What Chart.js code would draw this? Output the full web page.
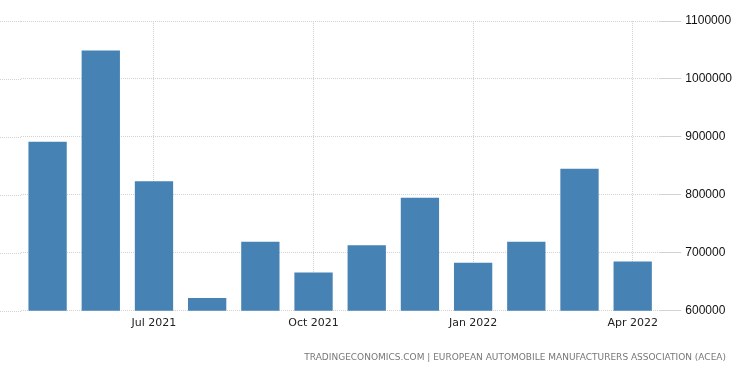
<!DOCTYPE html>
<html>
<head>
<meta charset="utf-8">
<script src="https://cdn.jsdelivr.net/npm/chart.js@4/dist/chart.umd.min.js"></script>
<style>
    html, body { margin: 0; padding: 0; background: #fff; }
    #wrap { position: relative; width: 750px; height: 373px; }
    #source {
        position: absolute; right: 24px; top: 352px;
        font: 9px "DejaVu Sans", sans-serif; letter-spacing: 0;
        color: #777; white-space: nowrap;
    }
</style>
</head>
<body>
<div id="wrap">
    <canvas id="chart" width="750" height="373"></canvas>
    <div id="source">TRADINGECONOMICS.COM | EUROPEAN AUTOMOBILE MANUFACTURERS ASSOCIATION (ACEA)</div>
</div>
<script>
const months = ['May 2021', 'Jun 2021', 'Jul 2021', 'Aug 2021', 'Sep 2021', 'Oct 2021',
    'Nov 2021', 'Dec 2021', 'Jan 2022', 'Feb 2022', 'Mar 2022', 'Apr 2022'];
const registrations = [891700, 1049000, 823600, 622000, 719000, 666000,
    713000, 795000, 683000, 719000, 845000, 685000];
const shownLabels = ['Jul 2021', 'Oct 2021', 'Jan 2022', 'Apr 2022'];

const gridColor = '#d2d2d2';

// horizontal grid lines run out to the left edge of the picture
const extendGrid = {
    id: 'extendGrid',
    beforeDatasetsDraw(chart) {
        const { ctx, chartArea, scales } = chart;
        ctx.save();
        ctx.strokeStyle = gridColor;
        ctx.lineWidth = 1;
        ctx.setLineDash([1, 1]);
        scales.y.ticks.forEach(t => {
            const y = Math.round(scales.y.getPixelForValue(t.value)) + 0.5;
            ctx.beginPath();
            ctx.moveTo(0, y);
            ctx.lineTo(chartArea.left, y);
            ctx.stroke();
        });
        ctx.restore();
    }
};

new Chart(document.getElementById('chart'), {
    type: 'bar',
    data: {
        labels: months,
        datasets: [{
            data: registrations,
            backgroundColor: '#4682b4',
            categoryPercentage: 1,
            barPercentage: 0.72
        }]
    },
    options: {
        responsive: false,
        animation: false,
        layout: { padding: { left: 21, right: 14, top: 21, bottom: 37 } },
        plugins: { legend: { display: false }, tooltip: { enabled: false } },
        scales: {
            x: {
                offset: true,
                grid: { offset: false, color: gridColor, drawTicks: false },
                border: { display: false, dash: [1, 1] },
                ticks: {
                    autoSkip: false, maxRotation: 0, padding: 6,
                    color: '#222', font: { family: 'DejaVu Sans', size: 11 },
                    callback(v, i) {
                        const l = months[i];
                        return shownLabels.includes(l) ? l : null;
                    }
                }
            },
            y: {
                position: 'right',
                min: 600000, max: 1100000,
                grid: { color: gridColor, tickLength: 22 },
                border: { display: false, dash: [1, 1] },
                ticks: {
                    stepSize: 100000, padding: 4,
                    color: '#111', font: { family: 'Liberation Sans', size: 12 },
                    callback: v => String(v)
                }
            }
        }
    },
    plugins: [extendGrid]
});
</script>
</body>
</html>
